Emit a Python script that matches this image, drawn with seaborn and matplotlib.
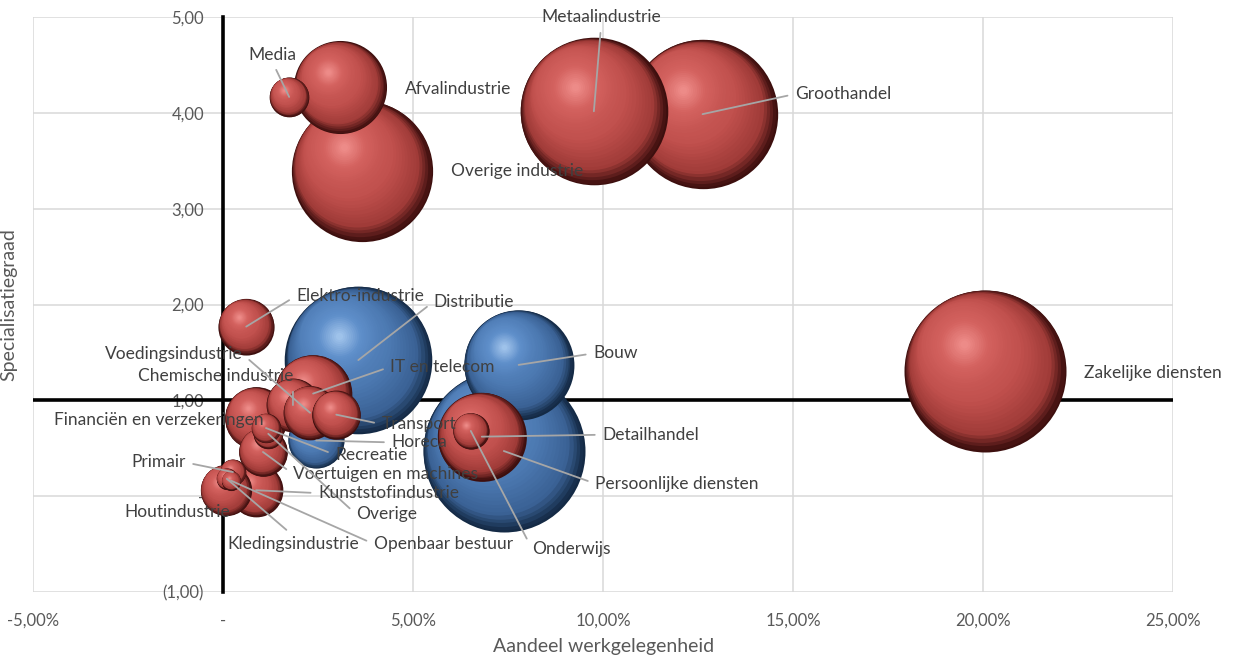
import numpy as np
import matplotlib
matplotlib.use("Agg")
import matplotlib.pyplot as plt
import seaborn as sns
from matplotlib.transforms import offset_copy
from matplotlib.colors import LinearSegmentedColormap

# ---------------- data ----------------
sectoren = ["Media", "Afvalindustrie", "Overige industrie", "Metaalindustrie", "Groothandel",
            "Zakelijke diensten", "Elektro-industrie", "Distributie", "Bouw",
            "Persoonlijke diensten", "Detailhandel", "Onderwijs", "IT en telecom", "Transport",
            "Horeca", "Chemische industrie", "Voedingsindustrie", "Financiën en verzekeringen",
            "Recreatie", "Voertuigen en machines", "Overige", "Kunststofindustrie", "Primair",
            "Houtindustrie", "Kledingsindustrie", "Openbaar bestuur"]
aandeel = [1.73, 3.08, 3.65, 9.75, 12.61, 20.05, 0.60, 3.55, 7.77, 7.38, 6.80, 6.51, 2.36, 2.97,
           2.44, 1.83, 2.28, 0.86, 1.12, 1.04, 1.18, 0.86, 0.25, 0.06, 0.09, 0.20]
specialisatie = [4.17, 4.27, 3.40, 4.02, 3.99, 1.31, 1.77, 1.42, 1.37, 0.47, 0.62, 0.68, 1.07, 0.85,
                 0.58, 0.95, 0.87, 0.81, 0.71, 0.46, 0.65, 0.06, 0.25, 0.06, 0.18, 0.16]
omvang = [6, 33, 76, 83, 85, 100, 12, 83, 46, 100, 30, 5, 23, 9,
          12, 11, 11, 15, 3.3, 9, 3.3, 11, 2.5, 10, 1.7, 1.4]
groep = ["rood", "rood", "rood", "rood", "rood", "rood", "rood", "blauw", "blauw",
         "blauw", "rood", "rood", "rood", "rood", "blauw", "rood", "rood", "rood",
         "rood", "rood", "rood", "rood", "rood", "rood", "rood", "rood"]

x_ticks = [-5, 0, 5, 10, 15, 20, 25]
x_ticklabels = ["-5,00%", "-", "5,00%", "10,00%", "15,00%", "20,00%", "25,00%"]
y_ticks = [-1, 0, 1, 2, 3, 4, 5]
y_ticklabels = ["(1,00)", "-", "1,00", "2,00", "3,00", "4,00", "5,00"]

# ---------------- label layout (data coords) ----------------
label_x = [1.30, 4.79, 5.98, 9.94, 15.04, 22.64, 1.91, 5.53, 9.73, 9.78, 9.97, 8.12, 4.39, 4.16,
           4.42, 1.83, 0.51, 1.07, 2.94, 1.83, 3.49, 2.49, -0.99, 0.17, 1.84, 3.95]
label_y = [4.61, 4.25, 3.40, 5.00, 4.20, 1.29, 2.09, 2.03, 1.49, 0.13, 0.64, -0.55, 1.35, 0.75,
           0.56, 1.25, 1.48, 0.79, 0.43, 0.23, -0.19, 0.03, 0.35, -0.17, -0.50, -0.50]
label_ha = ["center", "left", "left", "center", "left", "left", "left", "left", "left", "left",
            "left", "left", "left", "left", "left", "right", "right", "right", "left", "left",
            "left", "left", "right", "right", "center", "left"]
leader = [True, False, False, True, True, False, True, True, True, True, True, True, True, True,
          True, True, True, False, True, True, True, True, True, False, True, True]

# ---------------- style ----------------
sns.set_theme(style="white")
plt.rcParams["font.family"] = ["Lato", "DejaVu Sans"]
TXT = "#595959"
LBL = "#404040"
FS = 12.5

fig = plt.figure(figsize=(12.35, 6.6), dpi=100)
ax = fig.add_axes([0.0271, 0.1035, 0.9229, 0.8700])
ax.set_xlim(-5, 25)
ax.set_ylim(-1, 5)

ax.grid(True, color="#d9d9d9", lw=1.1)
ax.set_axisbelow(True)
for sp in ["top", "right", "bottom"]:
    ax.spines[sp].set_visible(False)
ax.spines["left"].set_position(("data", 0))
ax.spines["left"].set_color("black")
ax.spines["left"].set_linewidth(2.6)
ax.spines["left"].set_zorder(1.6)
ax.axhline(1, color="black", lw=2.6, zorder=1.6)

ax.set_xticks(x_ticks)
ax.set_xticklabels(x_ticklabels)
ax.set_yticks(y_ticks)
ax.set_yticklabels(y_ticklabels)
ax.tick_params(axis="both", length=0, labelsize=12, colors=TXT)
ax.tick_params(axis="x", pad=15)
ax.tick_params(axis="y", pad=14)
ax.set_xlabel("Aandeel werkgelegenheid", fontsize=14, color=TXT, labelpad=7)
ax.set_ylabel("Specialisatiegraad", fontsize=14, color=TXT)
ax.yaxis.set_label_coords(-0.014, 0.5)

# ---------------- bubbles ----------------
cmaps = {
    "rood": LinearSegmentedColormap.from_list("r", [(0, "#3d0f0e"), (0.12, "#a03b38"),
                                                   (0.35, "#c0504d"), (0.7, "#d4625f"),
                                                   (1, "#f29390")]),
    "blauw": LinearSegmentedColormap.from_list("b", [(0, "#142a45"), (0.12, "#3a6194"),
                                                    (0.35, "#4b78b0"), (0.7, "#5f8fca"),
                                                    (1, "#aacbf0")]),
}
S_MAX = (2 * 81 * 0.72) ** 2  # marker area (pt^2) for omvang == 100
order = np.argsort(omvang)[::-1]
direction = np.array([-0.62, 0.78])
z = 3.0
n_layers = 36
for i in order:
    s = omvang[i] / 100.0 * S_MAX
    R = np.sqrt(s) / 2.0
    cm = cmaps[groep[i]]
    sns.scatterplot(x=[aandeel[i]], y=[specialisatie[i]], s=s, color=cm(0.0),
                    linewidth=0, ax=ax, legend=False, zorder=z)
    z += 0.001
    for f in np.linspace(0.985, 0.05, n_layers):
        t = 1 - f
        mag = min(0.88 * t, 0.42) * R
        tr = offset_copy(ax.transData, fig=fig, x=direction[0] * mag, y=direction[1] * mag,
                         units="points")
        ax.scatter([aandeel[i]], [specialisatie[i]], s=s * f * f, color=cm(t),
                   linewidths=0, transform=tr, zorder=z)
        z += 0.001

# ---------------- labels ----------------
for i in range(len(sectoren)):
    ha = label_ha[i]
    if leader[i]:
        if ha == "left":
            rel = (0.0, 0.5)
        elif ha == "right":
            rel = (1.0, 0.5)
        else:
            rel = (0.5, 0.0) if label_y[i] > specialisatie[i] else (0.5, 1.0)
        ax.annotate(sectoren[i], xy=(aandeel[i], specialisatie[i]),
                    xytext=(label_x[i], label_y[i]), ha=ha, va="center",
                    fontsize=FS, color=LBL, zorder=200,
                    arrowprops=dict(arrowstyle="-", color="#a6a6a6", lw=1.3,
                                    shrinkA=3, shrinkB=0, relpos=rel),
                    annotation_clip=False)
    else:
        ax.text(label_x[i], label_y[i], sectoren[i], ha=ha, va="center",
                fontsize=FS, color=LBL, zorder=200)

fig.savefig("out.png", dpi=100)
